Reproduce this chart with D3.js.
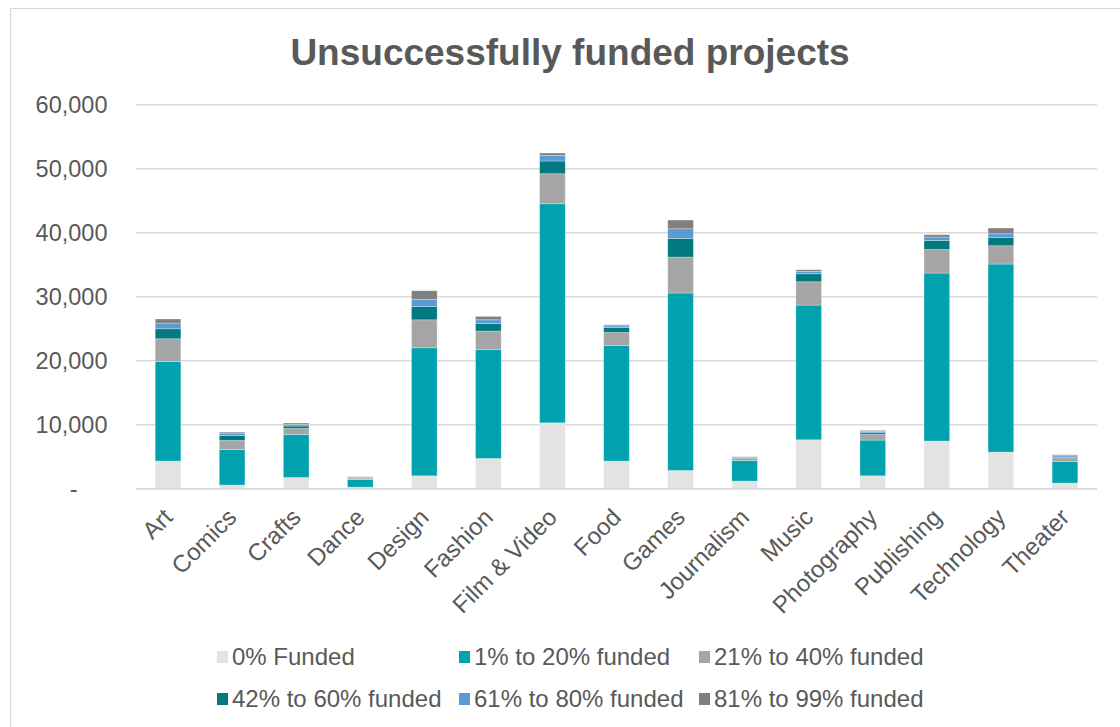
<!DOCTYPE html>
<html>
<head>
<meta charset="utf-8">
<script src="https://cdn.jsdelivr.net/npm/d3@7/dist/d3.min.js"></script>
<style>
  html, body { margin: 0; padding: 0; background: #ffffff; }
  svg { display: block; font-family: "Liberation Sans", Arial, sans-serif; }
</style>
</head>
<body>
<svg id="chart" width="1120" height="727"></svg>
<script>
// Categories and the six funding-level series (count of projects per category)
const categories = ["Art", "Comics", "Crafts", "Dance", "Design", "Fashion", "Film & Video",
  "Food", "Games", "Journalism", "Music", "Photography", "Publishing", "Technology", "Theater"];

const funded0   = [4330, 580, 1770, 260, 2030, 4740, 10310, 4330, 2860, 1200, 7660, 2030, 7450, 5730, 890];
const funded1   = [15560, 5560, 6720, 1190, 20000, 17030, 34220, 18070, 27720, 3220, 21040, 5580, 26250, 29380, 3380];
const funded21  = [3550, 1410, 930, 220, 4370, 2870, 4690, 2020, 5620, 310, 3640, 880, 3690, 2860, 570];
const funded42  = [1560, 780, 380, 80, 2080, 1190, 1980, 780, 2910, 90, 1250, 260, 1410, 1300, 110];
const funded61  = [890, 370, 250, 50, 1100, 570, 880, 270, 1510, 80, 370, 210, 530, 570, 210];
const funded81  = [630, 160, 220, 75, 1360, 520, 370, 160, 1360, 100, 260, 150, 360, 890, 150];

const seriesNames = ["0% Funded", "1% to 20% funded", "21% to 40% funded",
  "42% to 60% funded", "61% to 80% funded", "81% to 99% funded"];
const seriesColors = ["#e3e3e3", "#00a3ad", "#a5a5a5", "#007a80", "#5b9bd5", "#7f7f7f"];

const yTicks = [0, 10000, 20000, 30000, 40000, 50000, 60000];

// Build rows for d3.stack
const seriesValues = [funded0, funded1, funded21, funded42, funded61, funded81];
const rows = categories.map((c, i) => {
  const r = { category: c };
  seriesNames.forEach((s, k) => { r[s] = seriesValues[k][i]; });
  return r;
});

const svg = d3.select("#chart");
const textColor = "#595959";

// Chart frame
svg.append("rect")
  .attr("x", 10.5).attr("y", 8.5)
  .attr("width", 1130).attr("height", 740)
  .attr("fill", "#ffffff")
  .attr("stroke", "#d9d9d9").attr("stroke-width", 1.2);

// Title
svg.append("text")
  .attr("x", 570).attr("y", 64.5)
  .attr("text-anchor", "middle")
  .attr("font-size", 37).attr("font-weight", "bold")
  .attr("fill", textColor)
  .text("Unsuccessfully funded projects");

const plot = { left: 136, right: 1097, top: 104.7, bottom: 488.8 };

const x = d3.scaleBand()
  .domain(categories)
  .range([plot.left, plot.right])
  .paddingInner(0.6)
  .paddingOuter(0.3);

const y = d3.scaleLinear()
  .domain([0, 60000])
  .range([plot.bottom, plot.top]);

// Gridlines
svg.append("g")
  .selectAll("line")
  .data(yTicks)
  .join("line")
  .attr("x1", plot.left).attr("x2", plot.right)
  .attr("y1", d => y(d)).attr("y2", d => y(d))
  .attr("stroke", "#d9d9d9").attr("stroke-width", 1.6);

// Y axis labels
const yAxis = d3.axisLeft(y)
  .tickValues(yTicks)
  .tickSize(0)
  .tickPadding(0)
  .tickFormat(d => d === 0 ? "-" : d3.format(",")(d));

const gy = svg.append("g")
  .attr("transform", `translate(${107.5},0)`)
  .call(yAxis);
gy.select(".domain").remove();
gy.selectAll("text")
  .attr("font-size", 23.5)
  .attr("font-family", "Liberation Sans, Arial, sans-serif")
  .attr("fill", textColor)
  .attr("dx", d => d === 0 ? -30 : 0);

// Stacked bars
const stack = d3.stack().keys(seriesNames);
const stacked = stack(rows);

svg.append("g")
  .selectAll("g")
  .data(stacked)
  .join("g")
  .attr("fill", (d, i) => seriesColors[i])
  .selectAll("rect")
  .data(d => d)
  .join("rect")
  .attr("x", d => x(d.data.category))
  .attr("width", x.bandwidth())
  .attr("y", d => y(d[1]))
  .attr("height", d => y(d[0]) - y(d[1]))
  .attr("stroke", "#ffffff").attr("stroke-opacity", 0.35).attr("stroke-width", 0.8);

// Baseline
svg.append("line")
  .attr("x1", plot.left).attr("x2", plot.right)
  .attr("y1", y(0)).attr("y2", y(0))
  .attr("stroke", "#d9d9d9").attr("stroke-width", 1.6);

// X axis labels, rotated
const xAxis = d3.axisBottom(x).tickSize(0).tickPadding(0);
const gx = svg.append("g")
  .attr("transform", `translate(0,${plot.bottom})`)
  .call(xAxis);
gx.select(".domain").remove();
gx.selectAll("text")
  .attr("font-size", 24)
  .attr("font-family", "Liberation Sans, Arial, sans-serif")
  .attr("fill", textColor)
  .attr("text-anchor", "end")
  .attr("dy", 0)
  .attr("transform", "translate(6,30) rotate(-45)");

// Legend
const legendCols = [232, 474, 714];
const legendRows = [657, 699];
const legend = svg.append("g")
  .selectAll("g")
  .data(seriesNames)
  .join("g")
  .attr("transform", (d, i) => `translate(${legendCols[i % 3]},${legendRows[Math.floor(i / 3)]})`);

legend.append("rect")
  .attr("x", -15).attr("y", -6)
  .attr("width", 11).attr("height", 12)
  .attr("fill", (d, i) => seriesColors[i]);

legend.append("text")
  .attr("x", 0).attr("y", 0)
  .attr("dy", "0.35em")
  .attr("font-size", 24)
  .attr("fill", textColor)
  .text(d => d);
</script>
</body>
</html>
